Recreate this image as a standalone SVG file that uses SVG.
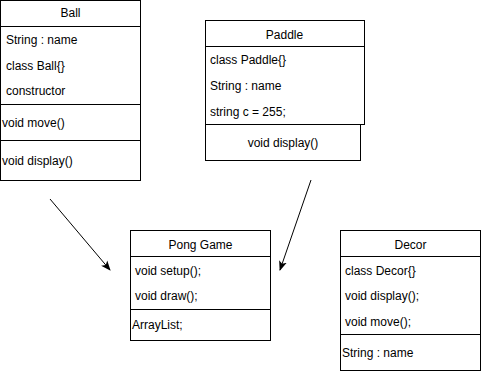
<svg xmlns="http://www.w3.org/2000/svg" width="481" height="371" viewBox="0 0 481 371">
  <style>
    .box { fill: #ffffff; stroke: #000000; stroke-width: 1; }
    .sep { stroke: #000000; stroke-width: 1; fill: none; }
    text { font-family: "Liberation Sans", Arial, sans-serif; font-size: 12px; fill: #000000; }
    .title { text-anchor: middle; }
    .edge { stroke: #000000; stroke-width: 1; fill: none; marker-end: url(#arrow); }
  </style>
  <defs>
    <marker id="arrow" viewBox="0 0 10 10" refX="9" refY="5" markerWidth="10" markerHeight="10" markerUnits="userSpaceOnUse" orient="auto">
      <path d="M0,1 L10,5 L0,9 L2.5,5 Z" fill="#000000"/>
    </marker>
  </defs>
  <rect width="481" height="371" fill="#ffffff"/>

  <g id="ball">
    <rect class="box" x="0.5" y="0.5" width="140" height="180"/>
    <line class="sep" x1="0.5" y1="26.5" x2="140.5" y2="26.5"/>
    <line class="sep" x1="0.5" y1="104.5" x2="140.5" y2="104.5"/>
    <line class="sep" x1="0.5" y1="140.5" x2="140.5" y2="140.5"/>
    <text class="title" x="70.5" y="17">Ball</text>
    <text x="6" y="44">String : name</text>
    <text x="6" y="70">class Ball{}</text>
    <text x="6" y="95">constructor</text>
    <text x="2" y="127">void move()</text>
    <text x="2" y="165">void display()</text>
  </g>

  <g id="paddle">
    <rect class="box" x="205.5" y="124.5" width="155" height="36"/>
    <rect class="box" x="205.5" y="20.5" width="159" height="104"/>
    <line class="sep" x1="205.5" y1="46.5" x2="364.5" y2="46.5"/>
    <text class="title" x="284.5" y="39">Paddle</text>
    <text x="210" y="64">class Paddle{}</text>
    <text x="210" y="90">String : name</text>
    <text x="210" y="116">string c = 255;</text>
    <text class="title" x="283" y="147">void display()</text>
  </g>

  <g id="pong-game">
    <rect class="box" x="130.5" y="230.5" width="140" height="110"/>
    <line class="sep" x1="130.5" y1="256.5" x2="270.5" y2="256.5"/>
    <line class="sep" x1="130.5" y1="309.5" x2="270.5" y2="309.5"/>
    <text class="title" x="200.5" y="249">Pong Game</text>
    <text x="135" y="275">void setup();</text>
    <text x="135" y="300">void draw();</text>
    <text x="132" y="329">ArrayList;</text>
  </g>

  <g id="decor">
    <rect class="box" x="340.5" y="230.5" width="140" height="140"/>
    <line class="sep" x1="340.5" y1="256.5" x2="480.5" y2="256.5"/>
    <line class="sep" x1="340.5" y1="334.5" x2="480.5" y2="334.5"/>
    <text class="title" x="410.5" y="249">Decor</text>
    <text x="345" y="275">class Decor{}</text>
    <text x="345" y="300">void display();</text>
    <text x="345" y="326">void move();</text>
    <text x="342" y="357">String : name</text>
  </g>

  <g id="connectors">
    <line class="edge" x1="50" y1="199" x2="110" y2="270"/>
    <line class="edge" x1="311" y1="180" x2="280" y2="270"/>
  </g>
</svg>
